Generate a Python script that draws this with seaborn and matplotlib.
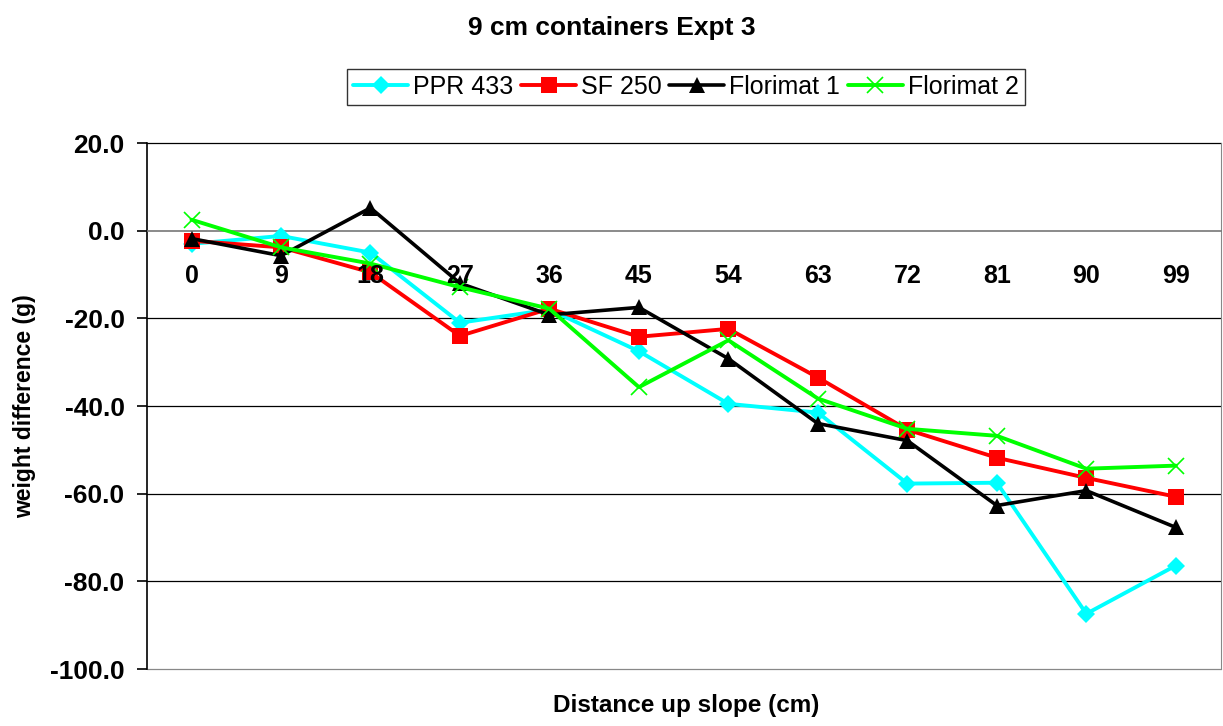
import matplotlib
matplotlib.use("Agg")
import matplotlib.pyplot as plt
import seaborn as sns
import pandas as pd
import numpy as np

distance = [0, 9, 18, 27, 36, 45, 54, 63, 72, 81, 90, 99]
ppr433 = [-3.0, -1.2, -5.0, -21.0, -18.0, -27.5, -39.5, -41.5, -57.7, -57.5, -87.4, -76.4]
sf250 = [-2.3, -3.8, -9.5, -24.0, -17.8, -24.2, -22.4, -33.5, -45.4, -51.8, -56.4, -60.7]
florimat1 = [-1.8, -5.7, 5.2, -12.0, -19.2, -17.5, -29.2, -44.0, -47.9, -62.7, -59.3, -67.7]
florimat2 = [2.5, -3.8, -7.5, -12.9, -17.8, -35.7, -25.0, -38.3, -45.2, -46.8, -54.3, -53.6]
series_names = ["PPR 433", "SF 250", "Florimat 1", "Florimat 2"]

df = pd.concat([
    pd.DataFrame({"distance": distance, "value": v, "series": n})
    for n, v in zip(series_names, [ppr433, sf250, florimat1, florimat2])
])

sns.set_style("white")
plt.rcParams["font.family"] = ["Liberation Sans", "DejaVu Sans"]
plt.rcParams["text.color"] = "black"
plt.rcParams["axes.labelcolor"] = "black"
plt.rcParams["xtick.color"] = "black"
plt.rcParams["ytick.color"] = "black"

fig = plt.figure(figsize=(12.23, 7.26), dpi=100)
ax = fig.add_axes([0.120, 0.0785, 0.878, 0.7245])

palette = {"PPR 433": "#00FFFF", "SF 250": "#FF0000", "Florimat 1": "#000000", "Florimat 2": "#00FF00"}
markers = {"PPR 433": "D", "SF 250": "s", "Florimat 1": "^", "Florimat 2": "x"}
msize = {"PPR 433": 9, "SF 250": 11, "Florimat 1": 11, "Florimat 2": 11}

for name in series_names:
    sub = df[df.series == name]
    sns.lineplot(data=sub, x="distance", y="value", ax=ax, color=palette[name],
                 marker=markers[name], markersize=msize[name],
                 linewidth=2.6 if name == "Florimat 1" else 2.8,
                 markeredgecolor=palette[name], markeredgewidth=1.2 if name == "Florimat 2" else 0,
                 label=name, legend=False)

ax.set_axisbelow(False)
ax.set_xlim(-4.5, 103.5)
ax.set_ylim(-100, 20)
yt = np.arange(-100, 21, 20)
ax.set_yticks(yt)
ax.set_yticklabels([f"{v:.1f}" for v in yt], fontsize=19, fontweight="bold")
for y in yt:
    if y != 0:
        ax.axhline(y, color="#000000" if y != -100 else "#888888", linewidth=0.9, zorder=0, clip_on=False)

ax.spines["bottom"].set_position(("data", 0))
ax.spines["bottom"].set_color("#777777")
ax.spines["bottom"].set_linewidth(1.2)
ax.spines["top"].set_visible(False)
ax.spines["right"].set_color("#888888")
ax.spines["left"].set_color("#000000")
ax.spines["left"].set_linewidth(1.2)
for sp in ax.spines.values():
    sp.set_zorder(0.5)

ax.set_xticks(distance)
ax.set_xticklabels([str(d) for d in distance], fontsize=18, fontweight="bold", color="black")
ax.set_xticks([d + 4.5 for d in distance[:-1]], minor=True)
ax.tick_params(axis="x", which="major", length=0, pad=24, labelcolor="black")
ax.tick_params(axis="x", which="minor", direction="in", length=7, color="#777777", width=1.2)
ax.tick_params(axis="y", which="major", direction="out", length=7, width=1.2, color="#000000",
               left=True, pad=9, labelcolor="black")

ax.set_xlabel("")
ax.set_ylabel("weight difference (g)", fontsize=16.5, fontweight="bold", labelpad=10, color="black")
fig.text(0.561, 0.012, "Distance up slope (cm)", ha="center", va="bottom", fontsize=17.5,
         fontweight="bold", color="black")
fig.text(0.5, 0.962, "9 cm containers Expt 3", ha="center", va="center", fontsize=19,
         fontweight="bold", color="black")

handles, labels = ax.get_legend_handles_labels()
leg = fig.legend(handles, labels, loc="center", bbox_to_anchor=(0.561, 0.880), ncol=4,
                 frameon=True, fancybox=False, edgecolor="#000000", fontsize=18,
                 handlelength=2.2, handletextpad=0.2, columnspacing=0.3,
                 borderpad=0.25, borderaxespad=0, labelcolor="black")
leg.get_frame().set_linewidth(1.0)

fig.savefig("out.png", dpi=100)
